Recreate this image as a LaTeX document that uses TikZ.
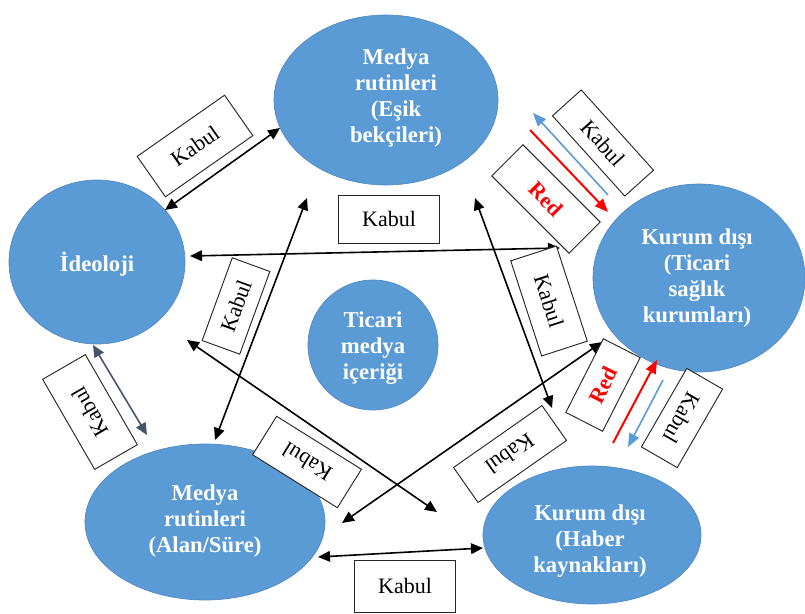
\documentclass[tikz,border=0pt]{standalone}
\usepackage{fontspec}
\setmainfont{Liberation Serif}
\usetikzlibrary{arrows.meta,shapes.geometric}
\definecolor{ellblue}{HTML}{5B9BD5}
\definecolor{elledge}{HTML}{4F89C4}
\definecolor{slate}{HTML}{44546A}
\definecolor{lblue}{HTML}{5B9BD5}
\begin{document}
\begin{tikzpicture}[x=0.75pt,y=-0.75pt,
  ell/.style={ellipse, fill=ellblue, draw=elledge, line width=0.5pt, inner sep=0pt},
  etext/.style={text=white, font=\fontsize{17}{19.5}\selectfont\bfseries, align=center, inner sep=0pt},
  kbox/.style={draw=black!85, fill=white, line width=0.7pt, inner sep=0pt, font=\fontsize{16.5}{19}\selectfont},
  rbox/.style={kbox, text=red, font=\fontsize{16.5}{19}\selectfont\bfseries},
  conn/.style={line width=1.2pt, {Triangle[length=9pt,width=8pt]}-{Triangle[length=9pt,width=8pt]}},
  sconn/.style={line width=1.2pt, draw=slate, {Triangle[length=9pt,width=8pt]}-{Triangle[length=9pt,width=8pt]}},
  redarr/.style={line width=1.5pt, draw=red, -{Triangle[length=10pt,width=8pt]}},
  bluearr/.style={line width=1.2pt, draw=lblue, -{Triangle[length=10pt,width=8pt]}}
]
\useasboundingbox (0,0) rectangle (805,613);

% ellipses
\node[ell, minimum width=168pt, minimum height=127.5pt] (top) at (386,100) {};
\node[ell, minimum width=132pt, minimum height=123pt] (ideo) at (97,262) {};
\node[ell, minimum width=159pt, minimum height=141pt] (ticari) at (699,278) {};
\node[ell, minimum width=97.5pt, minimum height=97.5pt] (center) at (373,345) {};
\node[ell, minimum width=180pt, minimum height=117pt] (alan) at (205,522) {};
\node[ell, minimum width=163.5pt, minimum height=103.5pt] (haber) at (592,535) {};

% ellipse texts
\node[etext] (toptext) at (396,98) {Medya\\rutinleri\\(Eşik\\bekçileri)};
\node[etext] (ideotext) at (97,264) {İdeoloji};
\node[etext] (ticaritext) at (697,278) {Kurum dışı\\(Ticari\\sağlık\\kurumları)};
\node[etext] (centertext) at (373,348) {Ticari\\medya\\içeriği};
\node[etext] (alantext) at (205,521) {Medya\\rutinleri\\(Alan/Süre)};
\node[etext] (habertext) at (590,541) {Kurum dışı\\(Haber\\kaynakları)};

% connector end points
\coordinate (a1) at (190,256); \coordinate (a2) at (560,248);
\coordinate (b1) at (307,198); \coordinate (b2) at (215,440);
\coordinate (c1) at (475,198); \coordinate (c2) at (552,408);
\coordinate (d1) at (187,340); \coordinate (d2) at (437,512);
\coordinate (e1) at (602,342); \coordinate (e2) at (342,523);
\coordinate (f1) at (165,210); \coordinate (f2) at (280,128);
\coordinate (g1) at (318,557); \coordinate (g2) at (483,548);
\coordinate (h1) at (93,345);  \coordinate (h2) at (147,435);
\coordinate (rb1) at (608,195); \coordinate (rb2) at (533,113);
\coordinate (rr1) at (530,130); \coordinate (rr2) at (608,212);
\coordinate (lr1) at (613,443); \coordinate (lr2) at (657,360);
\coordinate (lb1) at (663,380); \coordinate (lb2) at (628,447);

% connectors
\draw[conn] (a1) -- (a2);
\draw[conn] (b1) -- (b2);
\draw[conn] (c1) -- (c2);
\draw[conn] (d1) -- (d2);
\draw[conn] (e1) -- (e2);
\draw[conn] (f1) -- (f2);
\draw[conn] (g1) -- (g2);
\draw[sconn] (h1) -- (h2);
\draw[bluearr] (rb1) -- (rb2);
\draw[redarr] (rr1) -- (rr2);
\draw[redarr] (lr1) -- (lr2);
\draw[bluearr] (lb1) -- (lb2);

% label boxes
\node[kbox, rotate=35, minimum width=80pt, minimum height=37pt] (k1) at (195,146) {Kabul};
\node[kbox, rotate=-48, minimum width=81pt, minimum height=29pt] (k2) at (603,143) {Kabul};
\node[rbox, rotate=-45, minimum width=82pt, minimum height=33pt] (r1) at (546,199) {Red};
\node[rbox, rotate=63, minimum width=62pt, minimum height=31pt] (r2) at (603,385) {Red};
\node[kbox, rotate=-120, minimum width=68pt, minimum height=31pt] (k3) at (682,418) {Kabul};
\node[kbox, rotate=120, minimum width=78pt, minimum height=37pt] (k4) at (90,412) {Kabul};
\node[kbox, rotate=70, minimum width=66pt, minimum height=30pt] (k5) at (236,306) {Kabul};
\node[kbox, rotate=148, minimum width=75pt, minimum height=34pt] (k6) at (307,462) {Kabul};
\node[kbox, rotate=215, minimum width=81pt, minimum height=32pt] (k7) at (510,454) {Kabul};
\node[kbox, rotate=-72, minimum width=75pt, minimum height=36pt] (k8) at (549,301) {Kabul};
\node[kbox, minimum width=76pt, minimum height=36pt] (k9) at (389,219) {Kabul};
\node[kbox, minimum width=76pt, minimum height=39pt] (k10) at (405,586) {Kabul};
\end{tikzpicture}
\end{document}
